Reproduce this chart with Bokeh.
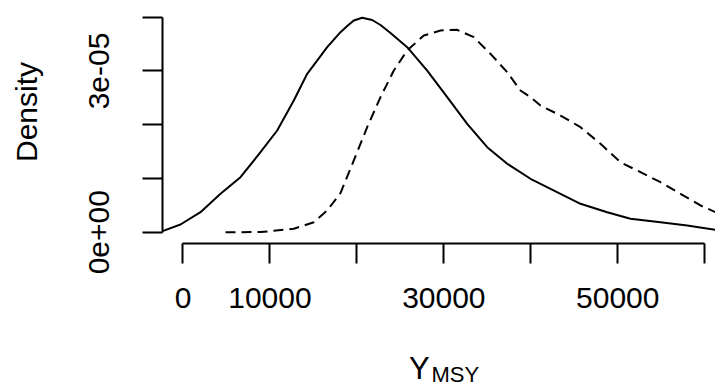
import math
from bokeh.plotting import figure
from bokeh.models import Range1d, FixedTicker, CustomJSTickFormatter, Label, LinearAxis
from bokeh.embed import file_html
from bokeh.resources import INLINE

# ---- data ----
solid_x = [-2358, -288, 2013, 4313, 6613, 8913, 10834, 12743, 14284, 16584, 18114,
           18885, 19644, 20610, 21760, 22714, 23864, 25786, 28086, 30386, 32686,
           34986, 37287, 39966, 41117, 43417, 45717, 48787, 51467, 54917, 57988, 61243]
solid_y = [0.19e-6, 1.43e-6, 3.72e-6, 7.14e-6, 10.23e-6, 14.88e-6, 18.92e-6, 24.50e-6,
           29.47e-6, 34.42e-6, 37.21e-6, 38.36e-6, 39.39e-6, 39.89e-6, 39.48e-6,
           38.55e-6, 37.06e-6, 34.42e-6, 30.08e-6, 25.12e-6, 20.17e-6, 15.81e-6,
           12.73e-6, 9.94e-6, 9.00e-6, 7.14e-6, 5.28e-6, 3.72e-6, 2.49e-6, 1.86e-6,
           1.25e-6, 0.45e-6]

dashed_x = [4888, 8913, 12743, 15043, 16584, 18114, 19644, 21185, 22714, 24244, 25786,
            27695, 29615, 31536, 33445, 35366, 37287, 38817, 39966, 41117, 43417,
            45717, 48017, 50317, 52617, 54917, 57218, 59518, 61243]
dashed_y = [0.0, 0.02e-6, 0.63e-6, 1.86e-6, 4.04e-6, 7.29e-6, 13.34e-6, 19.54e-6,
            25.12e-6, 30.08e-6, 33.81e-6, 36.60e-6, 37.53e-6, 37.66e-6, 36.28e-6,
            33.19e-6, 29.77e-6, 26.36e-6, 25.12e-6, 23.57e-6, 21.71e-6, 19.54e-6,
            16.45e-6, 13.02e-6, 11.16e-6, 9.30e-6, 7.14e-6, 4.97e-6, 3.72e-6]

x_ticks = [0, 10000, 20000, 30000, 40000, 50000, 60000]
x_tick_labels = ["0", "10000", "", "30000", "", "50000", ""]
y_ticks = [0, 1e-5, 2e-5, 3e-5, 4e-5]
y_tick_labels = ["0e+00", "", "", "3e-05", ""]

FONT = "Liberation Sans"

# plot-region corner (where the two axes sit), in data units
X_AXIS_AT_Y = -2.10e-6
Y_AXIS_AT_X = -2358

p = figure(width=715, height=389, output_backend="svg", toolbar_location=None,
           x_range=Range1d(-20989, 61243), y_range=Range1d(-29.27e-6, 43.11e-6),
           x_axis_location=None, y_axis_location=None,
           min_border_left=0, min_border_right=0, min_border_top=0,
           min_border_bottom=0)
p.outline_line_color = None
p.grid.visible = False
p.background_fill_color = "white"
p.border_fill_color = "white"

p.line(solid_x, solid_y, line_width=2, color="black", line_join="round")
p.line(dashed_x, dashed_y, line_width=2, color="black", line_dash="10 6",
       line_join="round")

fmt_code = """
for (let i = 0; i < tv.length; i++) {
  if (Math.abs(tv[i] - tick) <= 1e-12 * Math.max(1, Math.abs(tv[i]))) return tl[i];
}
return '';
"""

xa = LinearAxis(fixed_location=X_AXIS_AT_Y)
xa.ticker = FixedTicker(ticks=x_ticks)
xa.formatter = CustomJSTickFormatter(args=dict(tv=x_ticks, tl=x_tick_labels), code=fmt_code)
xa.bounds = (x_ticks[0], x_ticks[-1])
ya = LinearAxis(fixed_location=Y_AXIS_AT_X)
ya.ticker = FixedTicker(ticks=y_ticks)
ya.formatter = CustomJSTickFormatter(args=dict(tv=y_ticks, tl=y_tick_labels), code=fmt_code)
ya.bounds = (y_ticks[0], y_ticks[-1])
ya.major_label_orientation = "parallel"

for ax in (xa, ya):
    ax.axis_line_width = 2
    ax.axis_line_color = "black"
    ax.major_tick_line_width = 2
    ax.major_tick_line_color = "black"
    ax.major_tick_out = 20
    ax.major_tick_in = 0
    ax.minor_tick_line_color = None
    ax.major_label_text_font = FONT
    ax.major_label_text_font_size = "30px"
    ax.major_label_text_color = "black"
xa.major_label_standoff = 25
ya.major_label_standoff = 33
p.add_layout(xa, "below")
p.add_layout(ya, "left")

p.add_layout(Label(x=-17942, y=22.36e-6, text="Density", angle=math.pi / 2,
                   text_align="center", text_baseline="middle",
                   text_font=FONT, text_font_size="30px", text_color="black"))
p.add_layout(Label(x=25992, y=-25.32e-6, text="Y", text_align="left",
                   text_baseline="middle", text_font=FONT,
                   text_font_size="31px", text_color="black"))
p.add_layout(Label(x=28580, y=-26.47e-6, text="MSY", text_align="left",
                   text_baseline="middle", text_font=FONT,
                   text_font_size="22px", text_color="black"))

open("out.html", "w").write(file_html(p, INLINE))
